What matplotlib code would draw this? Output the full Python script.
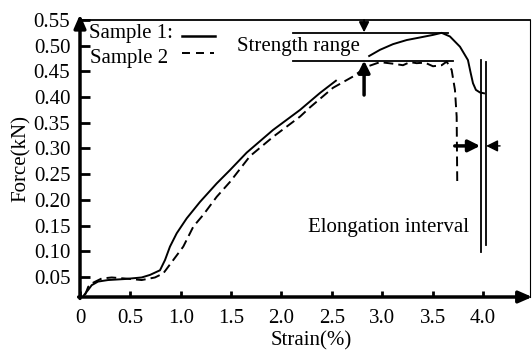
import matplotlib
matplotlib.use("Agg")
import matplotlib.pyplot as plt
import numpy as np

plt.rcParams['font.family'] = ['Liberation Serif', 'DejaVu Serif']

# Sample 1 (solid) - two segments separated by a gap (NaN)
s1_x = [0.033, 0.082, 0.116, 0.179, 0.278, 0.447, 0.612, 0.695, 0.794, 0.844, 0.893, 0.960,
        1.059, 1.191, 1.357, 1.489, 1.655, 1.916, 2.184, 2.382, 2.548, np.nan,
        2.862, 2.978, 3.107, 3.243, 3.375, 3.504, 3.590, 3.672, 3.772, 3.851, 3.878,
        3.901, 3.930, 3.970, 4.020]
s1_y = [0.013, 0.025, 0.034, 0.041, 0.044, 0.046, 0.049, 0.054, 0.063, 0.083, 0.109, 0.135,
        0.164, 0.196, 0.232, 0.258, 0.292, 0.336, 0.375, 0.408, 0.433, np.nan,
        0.479, 0.492, 0.503, 0.511, 0.516, 0.521, 0.525, 0.518, 0.498, 0.472, 0.447,
        0.427, 0.414, 0.409, 0.407]

# Sample 2 (dashed)
s2_x = [0.050, 0.082, 0.132, 0.215, 0.315, 0.447, 0.612, 0.744, 0.827, 0.926, 1.025, 1.125,
        1.224, 1.357, 1.489, 1.687, 1.919, 2.184, 2.283, 2.511, 2.710, 2.846, 2.978,
        3.107, 3.206, 3.275, 3.342, 3.424, 3.504, 3.590, 3.640, 3.689, 3.722, 3.739,
        3.742, 3.745]
s2_y = [0.015, 0.031, 0.039, 0.047, 0.049, 0.047, 0.044, 0.049, 0.057, 0.083, 0.109, 0.148,
        0.171, 0.206, 0.235, 0.285, 0.323, 0.362, 0.380, 0.418, 0.440, 0.459, 0.468,
        0.465, 0.462, 0.468, 0.466, 0.467, 0.460, 0.462, 0.469, 0.453, 0.414, 0.362,
        0.297, 0.229]

x_ticks = [0, 0.5, 1.0, 1.5, 2.0, 2.5, 3.0, 3.5, 4.0]
x_labels = ['0', '0.5', '1.0', '1.5', '2.0', '2.5', '3.0', '3.5', '4.0']
y_ticks = [0.05, 0.10, 0.15, 0.20, 0.25, 0.30, 0.35, 0.40, 0.45, 0.50, 0.55]
y_labels = ['0.05', '0.10', '0.15', '0.20', '0.25', '0.30', '0.35', '0.40', '0.45', '0.50', '0.55']

FS = 15

fig = plt.figure(figsize=(5.32, 3.5), dpi=100)
ax = fig.add_axes([80/532, 53/350, 450/532, 277/350])
ax.set_xlim(0, 4.467)
ax.set_ylim(0.011, 0.55)

ax.plot(s1_x, s1_y, color='black', lw=1.4, solid_capstyle='butt')
ax.plot(s2_x, s2_y, color='black', lw=1.4, dashes=(5, 2.6))

# spines
ax.spines['left'].set_visible(False)
ax.spines['bottom'].set_visible(False)
ax.spines['top'].set_linewidth(1.3)
ax.spines['right'].set_linewidth(0.8)

ax.annotate('', xy=(0, 1.02), xytext=(0, -0.005), xycoords='axes fraction',
            arrowprops=dict(arrowstyle='-|>,head_length=0.8,head_width=0.35', lw=2.5, color='black',
                            shrinkA=0, shrinkB=0), annotation_clip=False)
ax.annotate('', xy=(1.005, 0), xytext=(-0.003, 0), xycoords='axes fraction',
            arrowprops=dict(arrowstyle='-|>,head_length=0.8,head_width=0.35', lw=2.5, color='black',
                            shrinkA=0, shrinkB=0), annotation_clip=False)

ax.set_xticks(x_ticks)
ax.set_xticklabels(x_labels, fontsize=FS)
ax.set_yticks(y_ticks)
ax.set_yticklabels(y_labels, fontsize=FS)
ax.tick_params(axis='y', direction='in', length=7, width=2, pad=7, left=True, right=False)
ax.tick_params(axis='x', direction='in', length=4, width=2, pad=8.5)

ax.set_xlabel('Strain(%)', fontsize=FS, labelpad=0)
ax.set_ylabel('Force(kN)', fontsize=FS, labelpad=2)
ax.xaxis.set_label_coords(0.515, -0.125)

# legend-like text
ax.text(0.09, 0.524, 'Sample 1:', fontsize=FS, va='center', ha='left')
ax.text(0.10, 0.475, 'Sample 2', fontsize=FS, va='center', ha='left')
ax.plot([1.01, 1.34], [0.519, 0.519], color='black', lw=1.8)
ax.plot([1.01, 1.33], [0.485, 0.485], color='black', lw=1.4, dashes=(4.1, 3.1))

# strength range
ax.text(1.56, 0.499, 'Strength range', fontsize=FS, va='center', ha='left')
ax.plot([2.11, 3.65], [0.525, 0.525], color='black', lw=1.3)
ax.plot([2.11, 3.70], [0.470, 0.470], color='black', lw=1.3)
ax.annotate('', xy=(2.82, 0.526), xytext=(2.82, 0.55),
            arrowprops=dict(arrowstyle='-|>,head_length=0.6,head_width=0.3', lw=1.3, color='black',
                            shrinkA=0, shrinkB=0))
ax.annotate('', xy=(2.82, 0.471), xytext=(2.82, 0.404),
            arrowprops=dict(arrowstyle='-|>,head_length=0.7,head_width=0.35', lw=2.5, color='black',
                            shrinkA=0, shrinkB=0))

# elongation interval
ax.plot([3.977, 3.977], [0.472, 0.099], color='black', lw=1.3)
ax.plot([4.027, 4.027], [0.469, 0.112], color='black', lw=1.3)
ax.annotate('', xy=(3.972, 0.305), xytext=(3.72, 0.305),
            arrowprops=dict(arrowstyle='-|>,head_length=0.7,head_width=0.35', lw=2.5, color='black',
                            shrinkA=0, shrinkB=0))
ax.annotate('', xy=(4.032, 0.305), xytext=(4.17, 0.305),
            arrowprops=dict(arrowstyle='-|>,head_length=0.7,head_width=0.35', lw=1.0, color='black',
                            shrinkA=0, shrinkB=0))
ax.text(2.263, 0.147, 'Elongation interval', fontsize=FS, va='center', ha='left')

fig.savefig('out.png', dpi=100)
